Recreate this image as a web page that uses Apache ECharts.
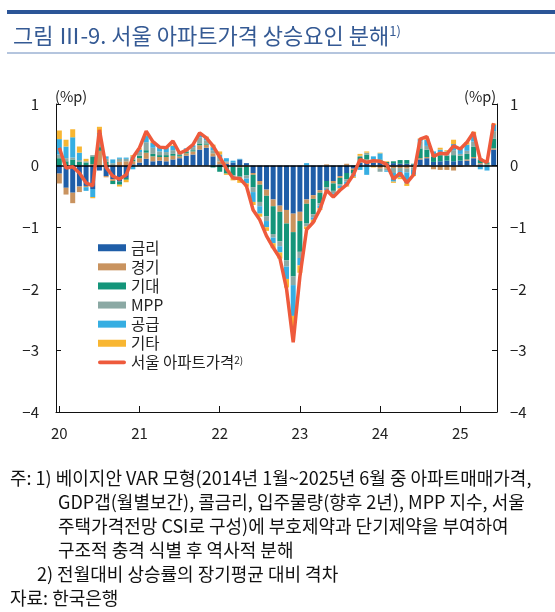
<!DOCTYPE html>
<html>
<head>
<meta charset="utf-8">
<script src="https://cdn.jsdelivr.net/npm/echarts@6/dist/echarts.min.js"></script>
<style>
html,body{margin:0;padding:0;background:#fff;}
#main{width:555px;height:612px;}
</style>
</head>
<body>
<div id="main"></div>
<script>
// ---- data ----
var years = ['20','21','22','23','24','25'];
var lastYearMonths = 6;
var yTicks = [1, 0, -1, -2, -3, -4];

var rate   = [-0.13,-0.36,-0.44,-0.34,-0.33,-0.38,-0.08,-0.17,-0.22,-0.26,-0.20,0.02,
              0.05,0.11,0.07,0.08,0.07,0.10,0.12,0.16,0.18,0.26,0.29,0.15,
              0.02,0.03,0.05,0.10,0.04,-0.12,-0.25,-0.39,-0.55,-0.65,-0.72,-0.78,
              -0.75,-0.55,-0.48,-0.40,-0.25,-0.25,-0.17,-0.12,-0.05,0.05,0.08,0.05,
              0.05,0.03,0.04,0.03,0.03,0.02,0.10,0.12,0.06,0.07,0.08,0.07,
              0.08,0.08,0.12,0.02,0.01,0.26];
var econ   = [-0.16,-0.11,-0.17,-0.09,-0.02,0.02,0.24,-0.02,-0.03,0.06,0.07,0.05,
              0.07,0.10,0.08,0.06,0.07,0.06,0.03,0.04,0.05,0.07,0.05,0.05,
              0.05,0.02,-0.02,-0.03,-0.02,-0.03,-0.06,-0.10,-0.11,-0.10,-0.22,-0.30,
              -0.15,-0.07,-0.06,-0.04,0.02,-0.04,-0.03,0.03,-0.02,0.03,0.02,0.01,
              -0.05,-0.05,-0.04,-0.04,-0.05,-0.03,0.02,0.02,-0.06,-0.07,-0.07,-0.08,
              -0.02,0.02,0.02,0.02,0.01,0.02];
var expect = [0.12,0.07,0.10,0.06,0.05,0.13,0.06,0.06,-0.05,-0.05,-0.03,0.03,
              0.04,0.04,0.04,0.03,0.03,0.03,0.02,0.02,0.02,0.03,0.02,-0.03,
              -0.10,-0.13,-0.14,-0.15,-0.14,-0.20,-0.28,-0.33,-0.45,-0.48,-0.60,-0.72,
              -0.50,-0.32,-0.25,-0.17,-0.10,-0.12,-0.10,-0.10,-0.05,0.06,0.08,0.02,
              0.05,0.03,0.03,0.06,0.06,0.01,0.16,0.12,0.08,0.10,0.08,0.10,
              0.08,0.09,0.17,0.05,0.02,0.16];
var mpp    = [0.06,0.05,0.03,0.03,0.02,0.02,0.20,0.05,0.04,0.05,0.04,0.05,
              0.06,0.13,0.10,0.06,0.05,0.06,0.04,0.04,0.05,0.10,0.05,0.05,
              0.07,0.02,-0.03,-0.04,-0.05,-0.08,-0.07,-0.08,-0.06,-0.08,-0.10,-0.14,
              -0.10,-0.05,-0.05,-0.04,-0.03,-0.04,-0.03,-0.04,-0.03,0.02,0.03,0.02,
              -0.05,-0.03,-0.08,-0.05,-0.06,-0.04,0.11,0.06,0.04,0.05,0.04,0.08,
              0.03,0.05,0.08,0.03,0.02,0.12];
var supply = [0.25,0.19,0.33,0.12,-0.06,-0.13,0.03,0.04,0.06,0.02,0.02,-0.06,
              0.04,0.10,0.08,0.07,0.07,0.07,0.02,0.02,0.03,0.05,0.04,0.05,
              0.04,0.05,0.03,0.01,-0.08,-0.16,-0.12,-0.10,-0.09,-0.10,-0.20,-0.50,
              -0.12,0.04,-0.04,-0.04,-0.02,-0.04,-0.04,-0.06,-0.03,-0.07,-0.15,0.05,
              0.10,-0.02,-0.14,-0.10,-0.18,-0.08,0.04,0.10,0.05,0.04,0.03,0.10,
              0.08,0.10,0.10,-0.06,-0.08,0.10];
var other  = [0.14,0.11,0.13,0.10,0.04,-0.02,0.10,0.00,0.00,-0.03,-0.04,0.02,
              0.02,0.04,0.02,0.00,0.00,0.01,-0.02,-0.01,0.00,0.01,0.02,0.04,
              0.05,-0.02,-0.05,-0.06,-0.05,-0.05,-0.05,-0.06,-0.08,-0.10,-0.14,-0.26,
              -0.12,-0.04,-0.04,-0.03,-0.02,-0.02,-0.02,-0.02,-0.02,0.03,0.02,-0.03,
              0.01,0.01,-0.02,-0.03,-0.04,-0.02,0.01,0.02,0.00,0.03,0.02,0.07,
              0.00,0.04,0.06,0.00,0.00,0.02];
var seoulApt = [0.29,-0.04,-0.02,-0.12,-0.28,-0.33,0.58,-0.03,-0.17,-0.22,-0.15,0.13,
                0.29,0.56,0.39,0.30,0.29,0.40,0.20,0.25,0.34,0.53,0.45,0.32,
                0.14,-0.05,-0.20,-0.21,-0.33,-0.72,-0.88,-1.14,-1.33,-1.50,-2.00,-2.87,
                -1.80,-1.04,-0.92,-0.71,-0.40,-0.51,-0.40,-0.31,-0.15,0.10,0.05,0.08,
                0.07,0.02,-0.22,-0.12,-0.28,-0.15,0.43,0.47,0.15,0.20,0.19,0.32,
                0.27,0.38,0.54,0.10,0.05,0.69];

var seriesNames = ['금리','경기','기대','MPP','공급','기타'];
var seriesColors = ['#1f5ea8','#c9935f','#14957a','#8ba9a4','#36aee2','#f8b632'];
var lineName = '서울 아파트가격';
var lineColor = '#ee5a3c';

var footnotes = [
  '주: 1) 베이지안 VAR 모형(2014년 1월~2025년 6월 중 아파트매매가격,',
  'GDP갭(월별보간), 콜금리, 입주물량(향후 2년), MPP 지수, 서울',
  '주택가격전망 CSI로 구성)에 부호제약과 단기제약을 부여하여',
  '구조적 충격 식별 후 역사적 분해',
  '2) 전월대비 상승률의 장기평균 대비 격차',
  '자료: 한국은행'
];
var footIndent = [10, 58, 58, 58, 37, 10];

// categories: monthly, 2020.01 ~ 2025.06
var categories = [];
years.forEach(function (y, yi) {
  var n = (yi === years.length - 1) ? lastYearMonths : 12;
  for (var m = 1; m <= n; m++) categories.push(y + '.' + (m < 10 ? '0' + m : m));
});

var FONT = 'Noto Sans CJK KR';
var values = [rate, econ, expect, mpp, supply, other];

function minusFmt(v) { return String(v).replace('-', '\u2212'); }

var series = seriesNames.map(function (n, k) {
  var s = {
    name: n, type: 'bar', stack: 'total', barWidth: 5,
    data: values[k], itemStyle: { color: seriesColors[k] }
  };
  if (k === seriesNames.length - 1) {
    s.markLine = {
      silent: true, symbol: 'none', label: { show: false },
      lineStyle: { color: '#000', width: 1.5, type: 'solid' },
      data: [{ yAxis: 0 }]
    };
  }
  return s;
});
series.push({
  name: lineName, type: 'line', data: seoulApt, symbol: 'none', z: 5,
  lineStyle: { color: lineColor, width: 3.5 }, itemStyle: { color: lineColor }
});

var yAxisBase = function (pos, margin) {
  return {
    type: 'value', position: pos, min: yTicks[yTicks.length - 1], max: yTicks[0], interval: 1,
    axisLine: { show: true, lineStyle: { color: '#111', width: 1 } },
    axisTick: { show: true, inside: true, length: 5, lineStyle: { color: '#111' } },
    axisLabel: { formatter: minusFmt, fontSize: 15, color: '#222', margin: margin, fontFamily: FONT },
    splitLine: { show: false }
  };
};

var graphics = [
  { type: 'rect', shape: { x: 7, y: 10, width: 548, height: 4 }, style: { fill: '#2b5597' } },
  { type: 'line', shape: { x1: 7, y1: 53, x2: 555, y2: 53 }, style: { stroke: '#6b8bbd', lineWidth: 1 } },
  { type: 'text', style: { text: '(%p)', x: 55, y: 96, fontSize: 14.5, fontFamily: FONT, fill: '#222', verticalAlign: 'middle' } },
  { type: 'text', style: { text: '(%p)', x: 464, y: 96, fontSize: 14.5, fontFamily: FONT, fill: '#222', verticalAlign: 'middle' } }
];
footnotes.forEach(function (t, i) {
  graphics.push({ type: 'text', style: { text: t, x: footIndent[i], y: 478 + i * 24, fontSize: 18, fontFamily: FONT, fill: '#111', verticalAlign: 'middle' } });
});

var chart = echarts.init(document.getElementById('main'));
chart.setOption({
  animation: false,
  textStyle: { fontFamily: FONT },
  title: {
    text: '그림 Ⅲ-9. 서울 아파트가격 상승요인 분해{sup|1)}',
    left: 8, top: 20,
    textStyle: {
      fontSize: 22, fontWeight: 'normal', color: '#355a94', fontFamily: FONT,
      rich: { sup: { fontSize: 13, verticalAlign: 'top', color: '#355a94', fontFamily: FONT } }
    }
  },
  graphic: graphics,
  legend: {
    orient: 'vertical', left: 93, top: 235,
    itemWidth: 28, itemHeight: 7, itemGap: 3.6,
    data: seriesNames.map(function (n) { return { name: n, icon: 'rect' }; }).concat([
      { name: lineName, icon: 'path://M2,0 L28,0 A2,2 0 0 1 28,4 L2,4 A2,2 0 0 1 2,0 Z' }
    ]),
    formatter: function (n) { return n === lineName ? n + '{sup|2)}' : n; },
    textStyle: {
      fontSize: 15.5, color: '#222', fontFamily: FONT, lineHeight: 14,
      rich: { sup: { fontSize: 10, verticalAlign: 'top', color: '#222', fontFamily: FONT } }
    }
  },
  grid: { left: 56, right: 58, top: 104, bottom: 200, containLabel: false },
  xAxis: {
    type: 'category', data: categories, boundaryGap: true,
    axisLine: { show: true, onZero: false, lineStyle: { color: '#111', width: 1 } },
    axisTick: { show: true, inside: true, length: 6, interval: 11, alignWithLabel: true, lineStyle: { color: '#111' } },
    axisLabel: {
      interval: 11, fontSize: 15, color: '#222', margin: 14, fontFamily: FONT,
      formatter: function (v) { return v.split('.')[0]; }
    },
    splitLine: { show: false }
  },
  yAxis: [yAxisBase('left', 17), yAxisBase('right', 13)],
  series: series
});
</script>
</body>
</html>
